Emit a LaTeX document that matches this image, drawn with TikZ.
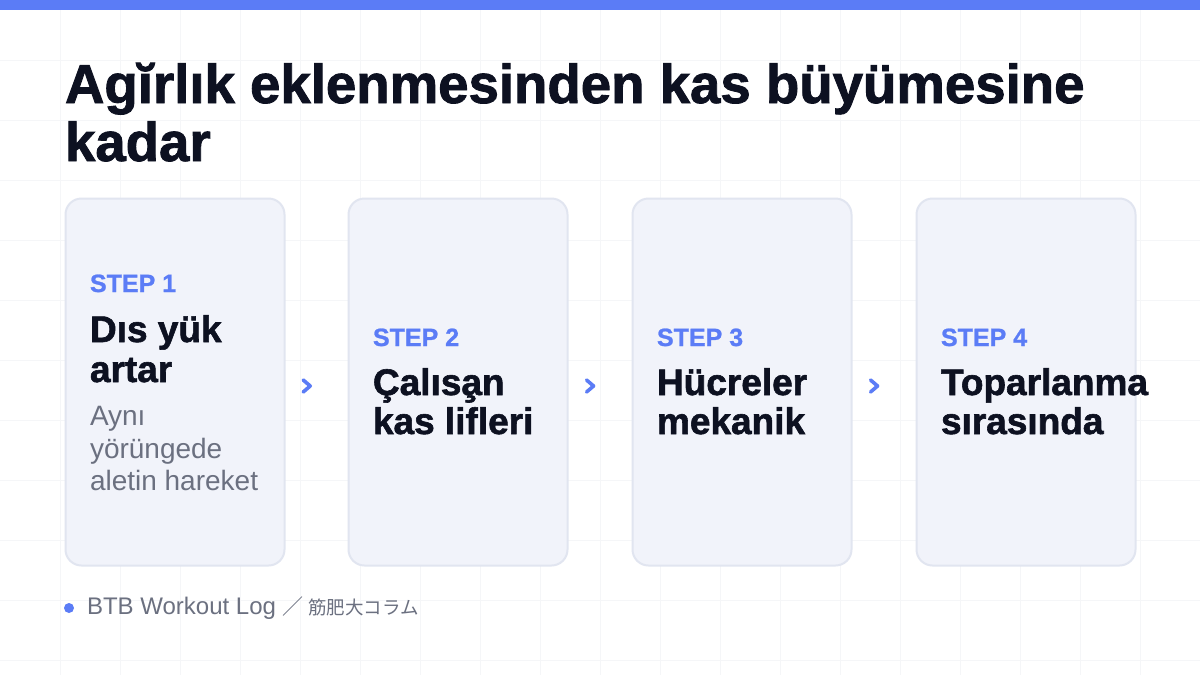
\documentclass[tikz,border=0pt]{standalone}
\usepackage{fontspec}
\setmainfont{Liberation Sans}
\newfontfamily\heavyfont[FakeBold=1.6]{Liberation Sans Bold}
\newfontfamily\semifont[FakeBold=1.0]{Liberation Sans Bold}
\newfontfamily\jpfont{Noto Sans CJK JP}
\usetikzlibrary{calc}
\definecolor{accent}{HTML}{5B7CF6}
\definecolor{titlecol}{HTML}{0D1121}
\definecolor{subcol}{HTML}{6B7080}
\definecolor{cardfill}{HTML}{F1F3FA}
\definecolor{cardline}{HTML}{E1E5F0}
\definecolor{gridcol}{HTML}{F5F6F8}
\tikzset{
  gridline/.style={draw=gridcol, line width=0.8pt},
  card/.style={draw=cardline, fill=cardfill, line width=2pt, rounded corners=16pt,
    minimum width=219pt, minimum height=367pt, inner sep=0pt},
  txt/.style={anchor=base west, inner sep=0pt, outer sep=0pt},
  steplabel/.style={txt, text=accent, font=\fontsize{25}{25}\selectfont\semifont},
  cardtitle/.style={txt, text=titlecol, font=\fontsize{37}{37}\selectfont\heavyfont},
  cardsub/.style={txt, text=subcol, font=\fontsize{28}{28}\selectfont},
  chev/.style={draw=accent, line width=3.6pt, line cap=round, line join=round},
}
\begin{document}
\begin{tikzpicture}[x=1pt,y=-1pt]
\useasboundingbox (0,0) rectangle (1200,675);
\fill[white] (0,0) rectangle (1200,675);
\foreach \gx in {60,120,...,1140} \draw[gridline] (\gx,0) -- (\gx,675);
\foreach \gy in {60,120,...,660} \draw[gridline] (0,\gy) -- (1200,\gy);
\fill[accent] (0,0) rectangle (1200,10);

% title
\node[txt, text=titlecol, font=\fontsize{54.6}{54.6}\selectfont\heavyfont] (t1) at (65,103) {Agĭrlık eklenmesinden kas büyümesine};
\node[txt, text=titlecol, font=\fontsize{54.6}{54.6}\selectfont\heavyfont] (t2) at (65,161) {kadar};

% cards
\node[card] (c1) at (175,382) {};
\node[card] (c2) at (458,382) {};
\node[card] (c3) at (742,382) {};
\node[card] (c4) at (1026,382) {};

% card 1
\node[steplabel] (s1) at (90,292) {STEP 1};
\node[cardtitle] (h1a) at (90,342) {Dıs yük};
\node[cardtitle] (h1b) at (90,382) {artar};
\node[cardsub] (d1a) at (90,425) {Aynı};
\node[cardsub] (d1b) at (90,458) {yörüngede};
\node[cardsub] (d1c) at (90,490) {aletin hareket};

% card 2
\node[steplabel] (s2) at (373,346) {STEP 2};
\node[cardtitle] (h2a) at (373,395) {Çalısa̧n};
\node[cardtitle] (h2b) at (373,434) {kas lifleri};

% card 3
\node[steplabel] (s3) at (657,346) {STEP 3};
\node[cardtitle] (h3a) at (657,395) {Hücreler};
\node[cardtitle] (h3b) at (657,434) {mekanik};

% card 4
\node[steplabel] (s4) at (941,346) {STEP 4};
\node[cardtitle] (h4a) at (941,395) {Toparlanma};
\node[cardtitle] (h4b) at (941,434) {sırasında};

% chevrons between cards
\foreach \a/\b in {c1/c2, c2/c3, c3/c4} {
  \coordinate (m) at ($(\a.east)!0.35!(\b.west)+(0,4)$);
  \draw[chev] ($(m)+(-4,-6)$) -- ($(m)+(3,0)$) -- ($(m)+(-4,6)$);
}

% footer
\fill[accent] (69,608) circle (5);
\node[txt, text=subcol, font=\fontsize{24}{24}\selectfont] (foot) at (87,614) {BTB Workout Log {\jpfont\fontsize{21}{21}\selectfont ／ \fontsize{18.5}{18.5}\selectfont 筋肥大コラム}};
\end{tikzpicture}
\end{document}
